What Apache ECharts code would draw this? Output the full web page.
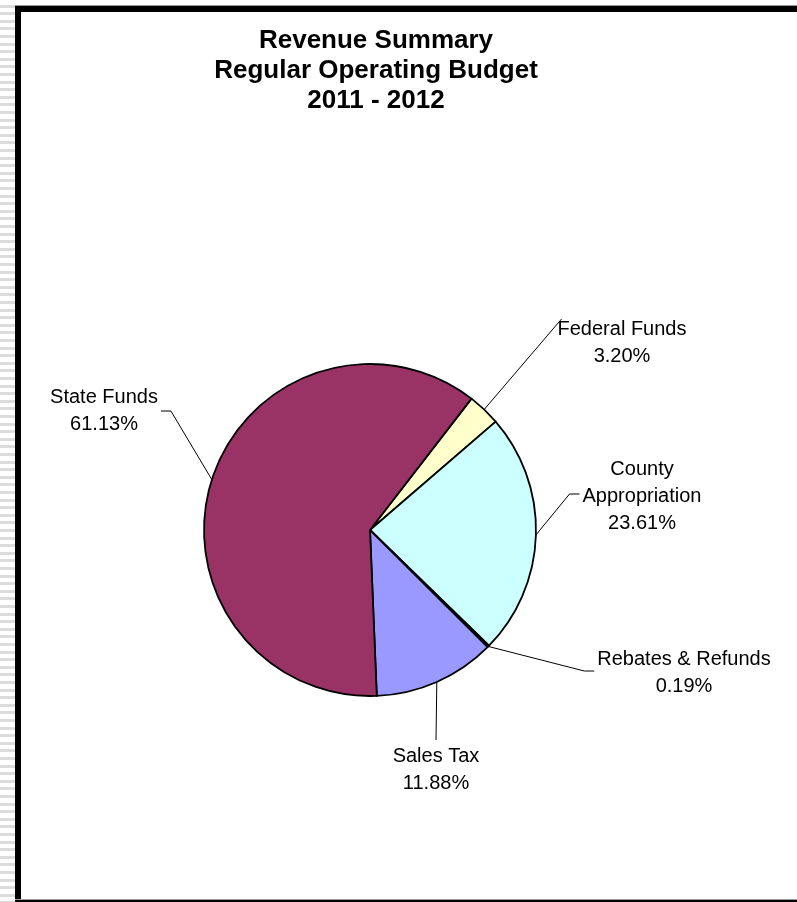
<!DOCTYPE html>
<html>
<head>
<meta charset="utf-8">
<script src="https://cdn.jsdelivr.net/npm/echarts@6/dist/echarts.min.js"></script>
<style>
  html, body { margin: 0; padding: 0; background: #fff; }
  #chart { position: absolute; left: 0; top: 0; width: 797px; height: 902px; }
  .f { position: absolute; pointer-events: none; }
</style>
</head>
<body>
<div id="chart"></div>
<div class="f" style="left:0;top:0;width:15px;height:902px;background:repeating-linear-gradient(to bottom,#fff 0px,#fff 4.6px,#dcdcdc 4.6px,#dcdcdc 7.6px);"></div>
<div class="f" style="left:15px;top:5px;width:782px;height:1px;background:#9a9a9a;"></div>
<div class="f" style="left:15px;top:6px;width:782px;height:6px;background:#000;"></div>
<div class="f" style="left:15px;top:6px;width:6px;height:896px;background:#000;"></div>
<div class="f" style="left:15px;top:899px;width:782px;height:1px;background:#9a9a9a;"></div>
<div class="f" style="left:15px;top:900px;width:782px;height:2px;background:#000;"></div>
<script>
// ---- data ----
const categories = ['Federal Funds', 'County\nAppropriation', 'Rebates & Refunds', 'Sales Tax', 'State Funds'];
const percentLabels = ['3.20%', '23.61%', '0.19%', '11.88%', '61.13%'];
const values = [3.20, 23.61, 0.19, 11.88, 61.13];

// ---- styles / layout ----
const colors = ['#FFFFCC', '#CCFFFF', '#660066', '#9999FF', '#993366'];
const CX = 370, CY = 530, R = 166;
const START_ANGLE = 52.3; // degrees, counter-clockwise from 3 o'clock
// label centres and leader-line attachment style
const labelPos = [[622, 343], [642, 496], [684, 673], [436, 770], [104, 411]];
const labelAttach = ['corner', 'left', 'left', 'top', 'right'];

const total = values.reduce((a, b) => a + b, 0);
function midPoint(i) {
  let before = 0;
  for (let k = 0; k < i; k++) before += values[k];
  const midFrac = (before + values[i] / 2) / total;
  const ang = (START_ANGLE - midFrac * 360) * Math.PI / 180;
  return [CX + R * Math.cos(ang), CY - R * Math.sin(ang)];
}

const chart = echarts.init(document.getElementById('chart'), null, { renderer: 'canvas' });
chart.setOption({
  backgroundColor: 'transparent',
  animation: false,
  title: {
    text: 'Revenue Summary\nRegular Operating Budget\n2011 - 2012',
    left: 371,
    top: 21,
    textAlign: 'center',
    textStyle: {
      fontFamily: 'Arial, "Liberation Sans", sans-serif',
      fontWeight: 'bold',
      fontSize: 26,
      lineHeight: 30,
      color: '#000'
    }
  },
  series: [{
    type: 'pie',
    center: [CX, CY],
    radius: R,
    startAngle: START_ANGLE,
    clockwise: true,
    avoidLabelOverlap: false,
    silent: true,
    itemStyle: { borderColor: '#000', borderWidth: 1.8 },
    label: {
      show: true,
      position: 'outside',
      fontFamily: 'Arial, "Liberation Sans", sans-serif',
      fontSize: 20,
      lineHeight: 27,
      color: '#000',
      align: 'center',
      formatter: p => categories[p.dataIndex] + '\n' + percentLabels[p.dataIndex]
    },
    labelLine: { show: true, lineStyle: { color: '#000', width: 1 } },
    labelLayout: function (params) {
      const i = params.dataIndex;
      const pos = labelPos[i];
      const w = params.labelRect.width, h = params.labelRect.height;
      const left = pos[0] - w / 2, right = pos[0] + w / 2, top = pos[1] - h / 2;
      const p0 = midPoint(i);
      let pts;
      const a = labelAttach[i];
      if (a === 'left') {
        pts = [p0, [left - 13, pos[1] - 2], [left - 3, pos[1] - 2]];
      } else if (a === 'right') {
        pts = [p0, [right + 13, pos[1]], [right + 3, pos[1]]];
      } else if (a === 'top') {
        pts = [p0, [pos[0], top - 3]];
      } else {
        pts = [p0, [left + 4, top + 3]];
      }
      return { x: pos[0], y: pos[1], align: 'center', verticalAlign: 'middle', labelLinePoints: pts };
    },
    data: values.map((v, i) => ({ name: categories[i], value: v, itemStyle: { color: colors[i] } }))
  }]
});
</script>
</body>
</html>
